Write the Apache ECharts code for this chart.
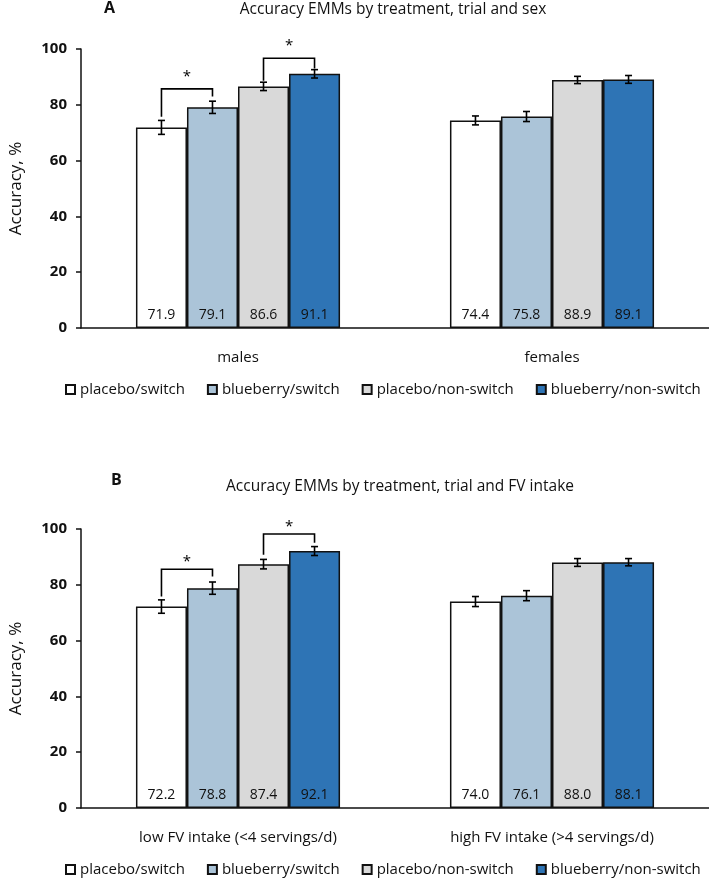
<!DOCTYPE html>
<html>
<head>
<meta charset="utf-8">
<script src="https://cdn.jsdelivr.net/npm/echarts@6/dist/echarts.min.js"></script>
<style>
html,body{margin:0;padding:0;background:#fff;}
#chart{width:709px;height:878px;}
</style>
</head>
<body>
<div id="chart"></div>
<script>
// ---------- data ----------
const categoriesA = ['males', 'females'];
const categoriesB = ['low FV intake (<4 servings/d)', 'high FV intake (>4 servings/d)'];
const seriesNames = ['placebo/switch', 'blueberry/switch', 'placebo/non-switch', 'blueberry/non-switch'];
const seriesColors = ['#ffffff', '#abc4d8', '#d9d9d9', '#2e74b5'];
const yTicks = [0, 20, 40, 60, 80, 100];

// panel A: by sex
const aPlaceboSwitch = [71.9, 74.4];
const aBlueberrySwitch = [79.1, 75.8];
const aPlaceboNonSwitch = [86.6, 88.9];
const aBlueberryNonSwitch = [91.1, 89.1];
const aErrPlaceboSwitch = [2.5, 1.6];
const aErrBlueberrySwitch = [2.2, 1.8];
const aErrPlaceboNonSwitch = [1.5, 1.3];
const aErrBlueberryNonSwitch = [1.5, 1.4];
// brackets: [category, left bar, right bar, left leg end, right leg end, bracket top, star]
const aBrackets = [[0, 0, 1, 75.7, 83.0, 85.7, 90.1], [0, 2, 3, 88.6, 93.0, 96.7, 101.1]];

// panel B: by FV intake
const bPlaceboSwitch = [72.2, 74.0];
const bBlueberrySwitch = [78.8, 76.1];
const bPlaceboNonSwitch = [87.4, 88.0];
const bBlueberryNonSwitch = [92.1, 88.1];
const bErrPlaceboSwitch = [2.4, 1.8];
const bErrBlueberrySwitch = [2.2, 1.8];
const bErrPlaceboNonSwitch = [1.7, 1.4];
const bErrBlueberryNonSwitch = [1.6, 1.3];
const bBrackets = [[0, 0, 1, 75.8, 83.0, 85.6, 88.2], [0, 2, 3, 90.8, 95.1, 98.2, 100.7]];

// ---------- chart ----------
const FONT = 'Open Sans';
const CAT_GAP = 0.35;
const N_BARS = 4;

function barX(api, cat, barIdx) {
  const c = api.coord([cat, 0]);
  const band = api.size([1, 0])[0];
  const bw = band * (1 - CAT_GAP) / N_BARS;
  return c[0] + (barIdx - (N_BARS - 1) / 2) * bw;
}

function errorRenderer(barIdx) {
  return function (params, api) {
    const cat = api.value(0), v = api.value(1), e = api.value(2);
    const x = barX(api, cat, barIdx);
    const yT = api.coord([cat, v + e])[1];
    const yB = api.coord([cat, v - e])[1];
    const hw = 3.5;
    const st = { stroke: '#000', lineWidth: 1.6 };
    return {
      type: 'group',
      children: [
        { type: 'line', shape: { x1: x, y1: yT, x2: x, y2: yB }, style: st },
        { type: 'line', shape: { x1: x - hw, y1: yT, x2: x + hw, y2: yT }, style: st },
        { type: 'line', shape: { x1: x - hw, y1: yB, x2: x + hw, y2: yB }, style: st }
      ]
    };
  };
}

function bracketRenderer(params, api) {
  const cat = api.value(0), l = api.value(1), r = api.value(2);
  const xL = barX(api, cat, l), xR = barX(api, cat, r);
  const yL = api.coord([cat, api.value(3)])[1];
  const yR = api.coord([cat, api.value(4)])[1];
  const yTop = api.coord([cat, api.value(5)])[1];
  const yStar = api.coord([cat, api.value(6)])[1];
  return {
    type: 'group',
    children: [
      { type: 'polyline', shape: { points: [[xL, yL], [xL, yTop], [xR, yTop], [xR, yR]] },
        style: { stroke: '#000', lineWidth: 1.6, fill: null } },
      { type: 'text', x: (xL + xR) / 2, y: yStar,
        style: { text: '*', fill: '#000', fontSize: 15, fontFamily: FONT, align: 'center', verticalAlign: 'middle' } }
    ]
  };
}

function panelSeries(gridIdx, values, errors, brackets) {
  const out = [];
  values.forEach(function (vals, i) {
    out.push({
      name: seriesNames[i], type: 'bar', xAxisIndex: gridIdx, yAxisIndex: gridIdx,
      data: vals, barGap: '0%', barCategoryGap: (CAT_GAP * 100) + '%',
      itemStyle: { color: seriesColors[i], borderColor: '#111', borderWidth: 1.5 },
      label: { show: true, position: 'insideBottom', distance: 6, color: '#111',
        fontSize: 14, fontFamily: FONT, formatter: function (p) { return p.value.toFixed(1); } },
      emphasis: { disabled: true }
    });
  });
  errors.forEach(function (errs, i) {
    out.push({
      type: 'custom', xAxisIndex: gridIdx, yAxisIndex: gridIdx, z: 5, clip: false, silent: true,
      renderItem: errorRenderer(i),
      encode: { x: 0, y: 1 },
      data: errs.map(function (e, c) { return [c, values[i][c], e]; })
    });
  });
  out.push({
    type: 'custom', xAxisIndex: gridIdx, yAxisIndex: gridIdx, z: 5, clip: false, silent: true,
    renderItem: bracketRenderer, encode: { x: 0, y: 5 }, data: brackets
  });
  return out;
}

function yAxis(gridIdx) {
  return {
    type: 'value', gridIndex: gridIdx, min: yTicks[0], max: yTicks[yTicks.length - 1],
    interval: yTicks[1] - yTicks[0],
    name: 'Accuracy, %', nameLocation: 'middle', nameGap: 56,
    nameTextStyle: { fontFamily: FONT, fontSize: 17, color: '#111' },
    axisLine: { show: true, lineStyle: { color: '#111', width: 1.5 } },
    axisTick: { show: true, inside: false, length: 5, lineStyle: { color: '#111', width: 1.5 } },
    axisLabel: { fontFamily: FONT, fontSize: 15, fontWeight: 'bold', color: '#111', margin: 14 },
    splitLine: { show: false }
  };
}

function xAxis(gridIdx, cats) {
  return {
    type: 'category', gridIndex: gridIdx, data: cats,
    axisLine: { show: true, lineStyle: { color: '#111', width: 1.5 } },
    axisTick: { show: false },
    axisLabel: { fontFamily: FONT, fontSize: 15, color: '#111', margin: 22 }
  };
}

function legend(top) {
  return {
    data: seriesNames, top: top, left: 65, width: 690, itemWidth: 9, itemHeight: 9, itemGap: 22,
    icon: 'rect', selectedMode: false, padding: 0,
    textStyle: { fontFamily: FONT, fontSize: 15, color: '#111' }
  };
}

const chart = echarts.init(document.getElementById('chart'), null, { renderer: 'canvas' });
chart.setOption({
  animation: false,
  backgroundColor: '#fff',
  title: [
    { text: 'A', left: 104, top: 0, padding: 0, textStyle: { fontFamily: FONT, fontSize: 16, fontWeight: 'bold', color: '#111' } },
    { text: 'Accuracy EMMs by treatment, trial and sex', left: 393, top: 2, padding: 0, textAlign: 'center',
      textStyle: { fontFamily: FONT, fontSize: 15.5, fontWeight: 'normal', color: '#111' } },
    { text: 'B', left: 111, top: 472, padding: 0, textStyle: { fontFamily: FONT, fontSize: 16, fontWeight: 'bold', color: '#111' } },
    { text: 'Accuracy EMMs by treatment, trial and FV intake', left: 400, top: 479, padding: 0, textAlign: 'center',
      textStyle: { fontFamily: FONT, fontSize: 15.5, fontWeight: 'normal', color: '#111' } }
  ],
  legend: [legend(382), legend(862)],
  grid: [
    { left: 81, right: 0, top: 49, height: 279, containLabel: false },
    { left: 81, right: 0, top: 529, height: 279, containLabel: false }
  ],
  xAxis: [xAxis(0, categoriesA), xAxis(1, categoriesB)],
  yAxis: [yAxis(0), yAxis(1)],
  series: [].concat(
    panelSeries(0,
      [aPlaceboSwitch, aBlueberrySwitch, aPlaceboNonSwitch, aBlueberryNonSwitch],
      [aErrPlaceboSwitch, aErrBlueberrySwitch, aErrPlaceboNonSwitch, aErrBlueberryNonSwitch],
      aBrackets),
    panelSeries(1,
      [bPlaceboSwitch, bBlueberrySwitch, bPlaceboNonSwitch, bBlueberryNonSwitch],
      [bErrPlaceboSwitch, bErrBlueberrySwitch, bErrPlaceboNonSwitch, bErrBlueberryNonSwitch],
      bBrackets)
  )
});
</script>
</body>
</html>
